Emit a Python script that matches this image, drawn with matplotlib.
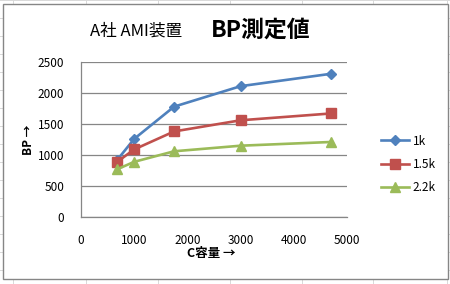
import matplotlib
matplotlib.use("Agg")
import matplotlib.pyplot as plt
from matplotlib.lines import Line2D
from matplotlib.patches import Rectangle

plt.rcParams["font.family"] = ["Noto Sans CJK JP", "DejaVu Sans"]

cap = [680, 1000, 1750, 3000, 4700]
bp_1k = [920, 1260, 1780, 2110, 2310]
bp_15k = [890, 1090, 1380, 1560, 1670]
bp_22k = [770, 890, 1060, 1150, 1210]
series_names = ["1k", "1.5k", "2.2k"]
x_ticks = [0, 1000, 2000, 3000, 4000, 5000]
y_ticks = [0, 500, 1000, 1500, 2000, 2500]

colors = ["#4F81BD", "#C0504D", "#9BBB59"]
markers = ["D", "s", "^"]
msizes = [5.5, 6.5, 6.5]

W, H = 450, 284
fig = plt.figure(figsize=(W / 100, H / 100), dpi=100)
fig.patch.set_facecolor("white")

# faint spreadsheet cell grid behind the chart object
for gx in [13, 86, 158, 230, 302, 373, 447]:
    fig.add_artist(Line2D([gx / W, gx / W], [0, 1], color="#D9D9D9", lw=0.7, zorder=0))
for gy in range(0, H, 18):
    fig.add_artist(Line2D([0, 1], [1 - gy / H, 1 - gy / H], color="#D9D9D9", lw=0.7, zorder=0))
fig.add_artist(Rectangle((3 / W, 1 - 279 / H), 445 / W, 275 / H, facecolor="white",
                         edgecolor="#868686", lw=1.0, zorder=1))

ax = fig.add_axes([81 / W, 1 - 217 / H, 266 / W, 155 / H], zorder=2)
ax.set_facecolor("none")
data = [bp_1k, bp_15k, bp_22k]
for vals, name, c, m, ms in zip(data, series_names, colors, markers, msizes):
    ax.plot(cap, vals, color=c, lw=1.9, marker=m, markersize=ms, label=name, zorder=3)

ax.set_xlim(0, 5000)
ax.set_ylim(0, 2500)
ax.set_xticks(x_ticks)
ax.set_yticks(y_ticks)
ax.tick_params(length=0, labelsize=8.5)
ax.tick_params(axis="x", pad=12)
ax.tick_params(axis="y", pad=12)
ax.yaxis.grid(True, color="#868686", lw=0.9)
for s in ["top", "right"]:
    ax.spines[s].set_visible(False)
for s in ["left", "bottom"]:
    ax.spines[s].set_color("#868686")
    ax.spines[s].set_linewidth(0.9)

leg = fig.legend(loc="upper left", bbox_to_anchor=(370 / W, 1 - 124 / H), frameon=False,
                 fontsize=8.5, handlelength=2.4, labelspacing=0.85, handletextpad=0.3)

fig.text(136 / W, 1 - 31 / H, "A社 AMI装置", fontsize=12, ha="center", va="center")
fig.text(261 / W, 1 - 30 / H, "BP測定値", fontsize=16.5, fontweight="bold", ha="center", va="center")
fig.text(29 / W, 1 - 140 / H, "BP →", fontsize=8.5, fontweight="bold", rotation=90,
         ha="center", va="center")
fig.text(211 / W, 1 - 253 / H, "C容量 →", fontsize=9, fontweight="bold", ha="center", va="center")

fig.savefig("out.png", dpi=100)
